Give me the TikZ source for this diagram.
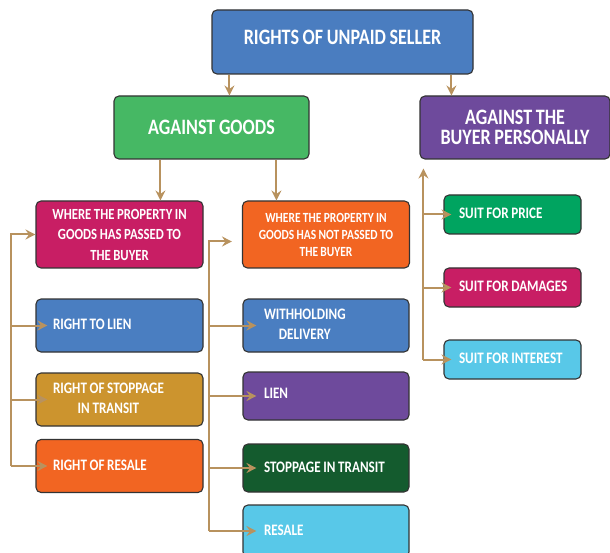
\documentclass[tikz,border=0pt]{standalone}
\usepackage{fontspec}
\setmainfont{Carlito}[FakeStretch=0.82, WordSpace=0.9]
\usetikzlibrary{arrows.meta,positioning}
\definecolor{rootblue}{HTML}{4A7DC0}
\definecolor{goodsgreen}{HTML}{46B864}
\definecolor{buyerpurple}{HTML}{6E4A9C}
\definecolor{casemagenta}{HTML}{C81E64}
\definecolor{caseorange}{HTML}{F26522}
\definecolor{itemblue}{HTML}{4A7EC1}
\definecolor{itemgold}{HTML}{CC942E}
\definecolor{itemdarkgreen}{HTML}{145B2E}
\definecolor{itemsky}{HTML}{58C8E8}
\definecolor{suitgreen}{HTML}{00A460}
\definecolor{linktan}{HTML}{B8925E}
\newcommand{\itemlines}[1]{\spaceskip=0pt\xspaceskip=0pt\begin{tabular}{@{}c@{}}#1\end{tabular}}

\begin{document}
\begin{tikzpicture}[
    x=1pt, y=-1pt,
    box/.style={draw=black!80, line width=1.1pt, rounded corners=5pt,
      text=white, align=center},
    head/.style={box, font=\fontsize{22}{20}\selectfont\bfseries},
    casebox/.style={box, minimum width=167pt, minimum height=67pt,
      font=\fontsize{15.5}{20.5}\selectfont\bfseries},
    item/.style={box, align=left, font=\fontsize{16}{20}\selectfont\bfseries},
    leftitem/.style={item, inner xsep=17pt, text width=133pt, minimum height=53pt},
    miditem/.style={item, inner xsep=21pt, text width=124pt, minimum height=48pt},
    rightitem/.style={item, inner xsep=15pt, text width=107pt, minimum height=39pt,
      font=\fontsize{16}{20}\selectfont\bfseries},
    trunk/.style={draw=linktan, line width=2pt},
    link/.style={trunk, -{Stealth[length=10pt,width=10pt,inset=3.5pt]}}
  ]
    \useasboundingbox (0,0) rectangle (610,553);
    \clip (0,0) rectangle (610,553);

    \node[head, fill=rootblue, minimum width=261pt, minimum height=64pt, text depth=10pt] (root) at (342.5,42) {RIGHTS OF UNPAID SELLER};
    \node[head, fill=goodsgreen, minimum width=195pt, minimum height=63pt] (goods) at (211.5,127.5) {AGAINST GOODS};
    \node[head, fill=buyerpurple, minimum width=190pt, minimum height=63pt] (buyer) at (515,127.5) {AGAINST THE\\BUYER PERSONALLY};

    \node[casebox, fill=casemagenta] (passed) at (119.5,234.5) {WHERE THE PROPERTY IN\\GOODS HAS PASSED TO\\THE BUYER};
    \node[casebox, fill=caseorange, font=\fontsize{14}{17}\selectfont\bfseries] (notpassed) at (326,234.5) {WHERE THE PROPERTY IN\\GOODS HAS NOT PASSED TO\\THE BUYER};

    \node[leftitem, fill=itemblue] (lien) at (119.5,325.5) {\itemlines{RIGHT TO LIEN}};
    \node[leftitem, fill=itemgold] (stoppage) at (119.5,399.5) {\itemlines{RIGHT OF STOPPAGE\\IN TRANSIT}};
    \node[leftitem, fill=caseorange] (resale) at (119.5,466) {\itemlines{RIGHT OF RESALE}};

    \node[miditem, fill=itemblue, minimum height=53pt] (withhold) at (326,325.5) {\itemlines{WITHHOLDING\\DELIVERY}};
    \node[miditem, fill=buyerpurple, text depth=8pt] (lientwo) at (326,396) {\itemlines{LIEN}};
    \node[miditem, fill=itemdarkgreen] (stoptransit) at (326,468) {\itemlines{STOPPAGE IN TRANSIT}};
    \node[miditem, fill=itemsky, minimum height=52pt] (resaletwo) at (326,531) {\itemlines{RESALE}};

    \node[rightitem, fill=suitgreen] (price) at (512.5,214.5) {\itemlines{SUIT FOR PRICE}};
    \node[rightitem, fill=casemagenta] (damages) at (512.5,287.5) {\itemlines{SUIT FOR DAMAGES}};
    \node[rightitem, fill=itemsky] (interest) at (512.5,359.5) {\itemlines{SUIT FOR INTEREST}};

    % top level
    \draw[link] ([xshift=18pt]root.south west) -- ([xshift=18pt]root.south west |- goods.north);
    \draw[link] ([xshift=32pt]buyer.north west |- root.south) -- ([xshift=32pt]buyer.north west);
    \draw[link] ([xshift=47pt]goods.south west) -- ([xshift=47pt]goods.south west |- passed.north);
    \draw[link] ([xshift=163pt]goods.south west) -- ([xshift=163pt]goods.south west |- notpassed.north);

    % left bracket
    \draw[link] ([xshift=-24pt]resale.west) |- (passed.west);
    \foreach \n in {lien,stoppage,resale}
      \draw[link] ([xshift=-24pt]\n.west) -- ([xshift=12pt]\n.west);

    % middle bracket
    \draw[link] ([xshift=-33pt]resaletwo.west) |- ([xshift=-10pt,yshift=-7pt]notpassed.west);
    \foreach \n in {withhold,lientwo,stoptransit,resaletwo}
      \draw[link] ([xshift=-33pt]\n.west) -- ([xshift=14pt]\n.west);

    % right bracket
    \draw[link, shorten >=9pt] ([xshift=-20pt]interest.west) -- ([xshift=-20pt]interest.west |- buyer.south);
    \foreach \n in {price,damages,interest}
      \draw[link] ([xshift=-20pt]\n.west) -- ([xshift=8pt]\n.west);
  \end{tikzpicture}
\end{document}
